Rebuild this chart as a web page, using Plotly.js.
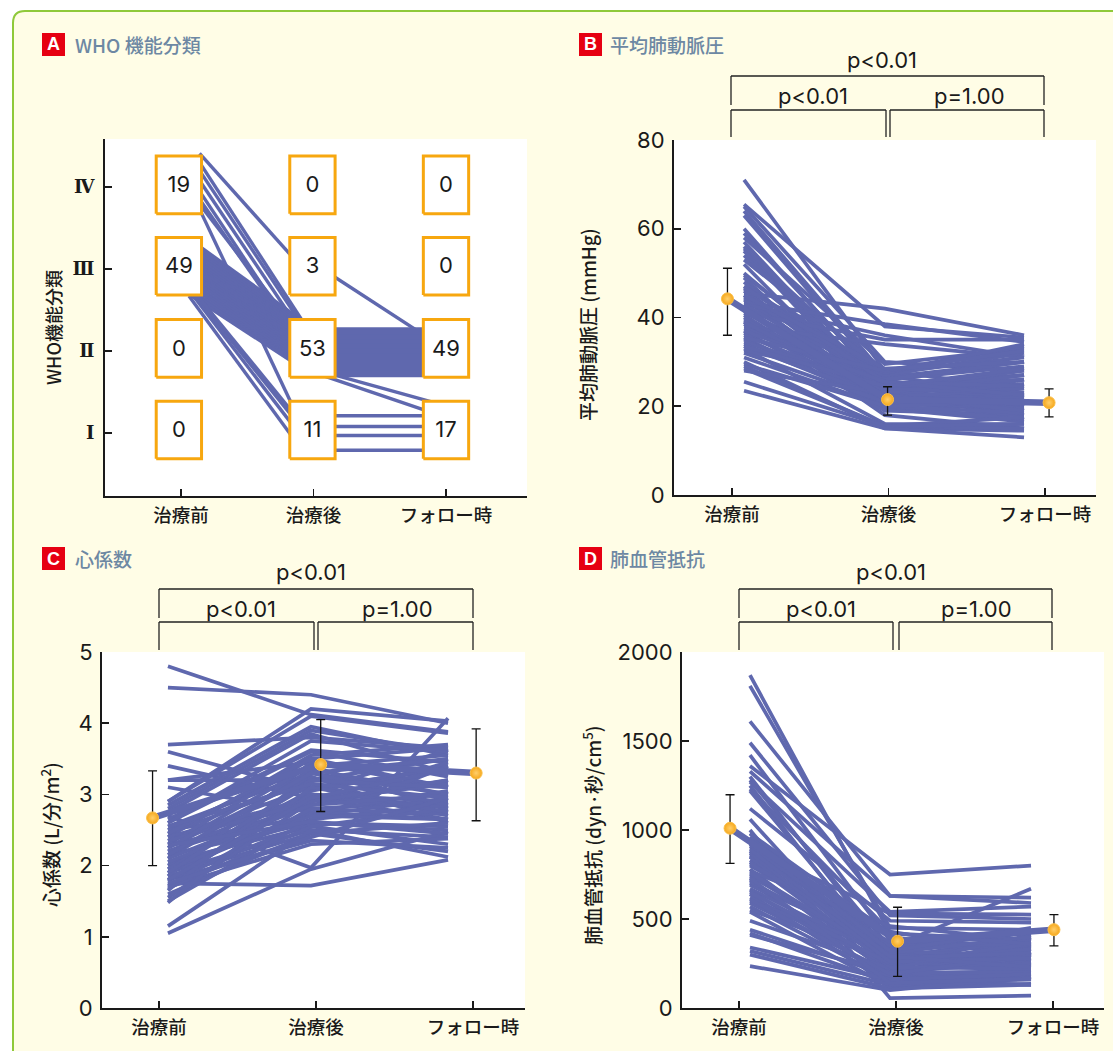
<!DOCTYPE html>
<html><head><meta charset="utf-8">
<script src="https://cdn.plot.ly/plotly-3.0.1.min.js"></script>
<style>html,body{margin:0;padding:0;background:#fff}</style></head>
<body><div id="chart" style="width:1113px;height:1051px"></div>
<script>
var stages = ['治療前','治療後','フォロー時'];
var whoTicks = ['Ⅰ','Ⅱ','Ⅲ','Ⅳ'];
var whoCountPre = [0,0,49,19];
var whoCountPost = [11,53,3,0];
var whoCountFollow = [17,49,0,0];

// A: individual patient paths between WHO classes (y = class position of each drawn line)
var ivStart = [4.41,4.30,4.20,4.08,3.95,3.85,3.79,3.73];
var ivEnd   = [2.86,2.16,2.11,2.01,1.86,1.86,1.99,0.79];
var iiiStart = [3.37,3.34,3.31,3.27,3.24,3.20,3.17,3.13,3.10,3.07,3.03,3.00,2.97,2.93,2.90,2.86,2.83,2.80,2.76,2.73,2.69];
var iiiEnd   = [2.27,2.24,2.21,2.18,2.15,2.12,2.09,2.07,2.04,2.01,1.98,1.95,1.92,1.89,1.86,1.83,1.80,1.77,1.74,1.72,1.70];
var iiiToIStart = [2.67,2.74,2.77,2.80];
var iiiToIEnd   = [0.71,0.87,0.98,1.04];
var postStart = [3.07,1.74,1.78,1.21,1.08,0.97,0.79].concat(iiiEnd);
var postEnd   = [2.02,1.19,1.33,1.21,1.08,0.97,0.79].concat(iiiEnd);

// B: mean pulmonary artery pressure (pre, post, follow-up)
var mpapPre = [71,65.5,65,64,63,60,59,58,57,56,55.5,55,54,53,52,50,49.5,49,48,47,46.5,46,45.5,45,44.5,44,43.5,43,42.5,42,41.5,41,40.5,40,39.5,39,38.5,38,37.5,37,36.5,36,35.5,35,34.5,34,33.5,33,32.5,32,31,30,29.5,29,28.5,28,25.5,23.5,41,43,47,39,37,35.5,33.5,45];
var mpapPost = [28,38,30,27,26,24,25,29.5,23,22,26.5,21,24.5,28,20,23.5,25.5,19,22.5,27.5,21.5,24,42,20.5,26,23,38.5,36,19.5,22,25,35,21,18,24,20,22.5,34,27,19,21.5,23.5,20,20.5,24.5,21,22,16,26,21,20,15,20,15.5,15.5,23,15.5,15,27.5,24,25.5,22.5,25.5,28,24.5,28.5];
var mpapFollow = [24,35.5,28,22,20,26,23,33,21,19,30,24,27,33.5,17,25,22,21,18,31,23,20,36,26,29,24.5,34.5,31,16.5,22,27,35,19,15,28,23,20,31,32,18,25,21,17,22,26,19.5,24,16,30,20.5,18.5,14.5,21,17.5,15,27,16,13,34,23,24.5,19,22.5,32.5,28.5,30];
var mpapMean = [44.2,21.5,20.8];
var mpapUp = [6.9,2.9,3.1];
var mpapDown = [8.2,3.5,3.2];

// C: cardiac index
var ciPre = [4.8,4.5,3.7,3.6,3.4,3.2,3.2,3.1,2.9,2.9,2.85,2.8,2.75,2.7,2.65,2.6,2.55,2.5,2.5,2.45,2.4,2.4,2.35,2.3,2.3,2.25,2.2,2.2,2.15,2.1,2.1,2.05,2,2,1.95,1.9,1.9,1.85,1.85,1.8,1.8,1.78,1.75,1.72,1.7,1.68,1.65,1.6,1.55,1.5,1.48,1.15,1.05,2.6,2.45,2.35,2.25,2.15,2.05,1.95,1.9,1.8,1.75,2.55,2.28];
var ciPost = [4.12,4.4,3.8,3.05,2.95,3.2,3.45,2.75,4.2,4.1,3.95,3.9,3.85,1.97,3.62,3.6,3.3,3.4,2.8,3.2,3.55,2.95,3.1,3.5,2.7,3.25,2.85,3,2.6,3.35,2.9,2.55,3.05,2.65,3.15,2.5,2.75,2.45,3.45,2.35,2.6,3,1.72,2.8,2.3,2.55,3.3,2.45,2.9,2.65,3.1,2.5,1.95,3.75,3.5,2.9,3.4,3.3,2.85,2.7,3.2,2.95,2.4,3.15,2.62];
var ciFollow = [3.88,4,3.65,3.4,2.85,3.15,3.1,2.65,4.03,3.86,3.55,3.6,3.3,4.07,3.45,3.25,3,2.8,2.9,3.5,3.7,2.65,3.35,3.1,2.95,2.6,3.2,2.75,2.5,3,3.45,2.3,3.62,2.85,2.7,2.4,3.05,2.2,3.3,2.25,2.55,2.9,2.08,2.72,2.38,2.8,3.5,2.6,3.15,3.4,2.75,2.12,2.48,3.6,3.65,3.2,3.55,2.85,3,2.65,3.1,3.35,2.95,2.95,2.45];
var ciMean = [2.67,3.42,3.3];
var ciUp = [0.66,0.63,0.62];
var ciDown = [0.67,0.66,0.67];

// D: pulmonary vascular resistance
var pvrPre = [1870,1810,1610,1490,1420,1360,1330,1300,1280,1270,1250,1230,1220,1120,1060,1000,980,960,940,920,900,880,860,850,830,820,800,780,770,750,740,720,700,690,670,660,640,620,600,590,570,550,540,490,440,420,410,340,320,300,235,910,850,710,650,610,760,810,730,980,870,960,890];
var pvrPost = [420,450,630,520,380,750,630,300,340,540,250,430,280,490,200,55,350,310,270,220,530,180,400,290,330,240,360,190,460,260,300,150,210,340,280,170,130,240,320,200,160,270,120,220,180,140,200,160,130,110,100,350,230,310,250,190,280,370,140,420,260,320,290];
var pvrFollow = [380,440,620,500,350,800,590,280,670,570,330,300,400,480,350,70,420,260,390,240,525,190,300,370,430,280,320,210,380,340,240,180,300,350,270,160,170,410,290,260,130,330,175,250,310,160,200,190,135,130,175,360,220,400,360,300,310,440,165,360,280,450,230];
var pvrMean = [1010,375,440];
var pvrUp = [188,191,85];
var pvrDown = [198,197,91];

var W=1113,H=1051;
var fx=function(p){return p/W}, fy=function(p){return 1-p/H};
var lineColor='#5f68ae', orange='#f7a70f', ink='#1a1a1a';
var cjk='"Noto Sans CJK JP","Noto Sans",sans-serif';
var num='Inter,"Liberation Sans",sans-serif';
var traces=[];
function seg(xa,ya,xs,ys,wid){
  traces.push({type:'scatter',mode:'lines',xaxis:xa,yaxis:ya,x:xs,y:ys,hoverinfo:'skip',showlegend:false,
    line:{color:lineColor,width:wid,simplify:false}});
}
// Panel A
ivStart.forEach(function(v,i){seg('x','y',[0.14,1],[v,ivEnd[i]],3.4)});
iiiStart.forEach(function(v,i){seg('x','y',[0.06,1],[v,iiiEnd[i]],3.4)});
iiiToIStart.forEach(function(v,i){seg('x','y',[0.06,0.95],[v,iiiToIEnd[i]],3.4)});
postStart.forEach(function(v,i){seg('x','y',[1,2],[v,postEnd[i]],3.4)});
var boxX=[-0.016,0.992,2.0], boxY=[1.037,2.032,3.033,4.026], hw=0.171, hh=0.351;
boxX.forEach(function(cx){boxY.forEach(function(cy){
  traces.push({type:'scatter',mode:'lines',x:[cx-hw,cx+hw,cx+hw,cx-hw,cx-hw],y:[cy-hh,cy-hh,cy+hh,cy+hh,cy-hh],
    fill:'toself',fillcolor:'#fff',line:{color:orange,width:3},hoverinfo:'skip',showlegend:false,xaxis:'x',yaxis:'y'});
})});
[whoCountPre,whoCountPost,whoCountFollow].forEach(function(cnt,j){
  traces.push({type:'scatter',mode:'text',xaxis:'x',yaxis:'y',x:boxY.map(function(){return boxX[j]}),y:boxY.map(function(v){return v-0.02}),
    text:cnt.map(String),textposition:'middle center',textfont:{family:num,size:22,color:ink},hoverinfo:'skip',showlegend:false});
});
// Panels B, C, D
function panel(xa,ya,pre,post,fol,lx,mean,up,down,mx){
  pre.forEach(function(v,i){seg(xa,ya,lx,[v,post[i],fol[i]],3.7)});
  seg(xa,ya,mx,mean,6.5);
  traces.push({type:'scatter',mode:'markers',xaxis:xa,yaxis:ya,x:mx,y:mean,hoverinfo:'skip',showlegend:false,
    error_y:{type:'data',symmetric:false,array:up,arrayminus:down,visible:true,color:'#111',thickness:1.3,width:4.5},
    marker:{size:12,color:'#f6a81c',gradient:{type:'radial',color:'#ffcf6b'},line:{color:'#fbc04a',width:1}}});
}
panel('x2','y2',mpapPre,mpapPost,mpapFollow,[0.077,0.977,1.866],mpapMean,mpapUp,mpapDown,[-0.029,0.994,2.026]);
panel('x3','y3',ciPre,ciPost,ciFollow,[0.057,0.968,1.841],ciMean,ciUp,ciDown,[-0.041,1.03,2.02]);
panel('x4','y4',pvrPre,pvrPost,pvrFollow,[0.07,0.962,1.86],pvrMean,pvrUp,pvrDown,[-0.057,1.01,2.006]);

function xAxis(l,r,t0,t2,anchor){
  var u=(t2-t0)/2;
  return {domain:[fx(l),fx(r)],range:[(l-t0)/u,(r-t0)/u],anchor:anchor,tickmode:'array',tickvals:[0,1,2],ticktext:stages,
    ticks:'inside',ticklen:7,tickwidth:1.6,tickcolor:ink,showline:true,linecolor:ink,linewidth:2,showgrid:false,zeroline:false,
    ticklabelstandoff:2,tickfont:{family:cjk,size:18.5,color:ink,weight:500},fixedrange:true};
}
function yAxis(t,b,range,dt,anchor){
  return {domain:[fy(b),fy(t)],range:range,anchor:anchor,dtick:dt,tick0:0,tickmode:'linear',
    ticks:'inside',ticklen:7,tickwidth:1.6,tickcolor:ink,showline:true,linecolor:ink,linewidth:2,showgrid:false,zeroline:false,
    ticklabelstandoff:3,tickfont:{family:num,size:22,color:ink},fixedrange:true};
}
var yA=yAxis(139,496,[1-(496-433)/82,4+(187-139)/82],1,'x');
yA.tickmode='array';yA.tickvals=[1,2,3,4];yA.ticktext=whoTicks;yA.ticklabelstandoff=5;yA.tickfont={family:'"DejaVu Serif","Liberation Serif",serif',size:18,color:ink,weight:700};

var shapes=[{type:'path',xref:'paper',yref:'paper',layer:'below',
  path:'M '+fx(13)+' '+fy(1060)+' L '+fx(13)+' '+fy(23)+' Q '+fx(13)+' '+fy(11)+' '+fx(25)+' '+fy(11)+' L '+fx(1120)+' '+fy(11)+' L '+fx(1120)+' '+fy(1060)+' Z',
  fillcolor:'#fffde6',line:{color:'#8fc93a',width:2}}];
['','2','3','4'].forEach(function(s){
  shapes.push({type:'rect',xref:'x'+s+' domain',yref:'y'+s+' domain',x0:0,x1:1,y0:0,y1:1,layer:'below',fillcolor:'#fff',line:{width:0}});
});
var annotations=[];
function txt(x,y,t,opt){
  annotations.push(Object.assign({xref:'paper',yref:'paper',x:fx(x),y:fy(y),text:t,showarrow:false,xanchor:'center',yanchor:'middle',
    font:{family:num,size:22,color:ink}},opt||{}));
}
function hdr(l,t,letter,title,gap){
  shapes.push({type:'rect',xref:'paper',yref:'paper',x0:fx(l),x1:fx(l+23),y0:fy(t),y1:fy(t+23),fillcolor:'#e60012',line:{width:0},layer:'above'});
  txt(l+11.5,t+11.5,letter,{font:{family:'"Liberation Sans",sans-serif',size:18,color:'#fff',weight:700}});
  txt(l+gap,t+11,title,{xanchor:'left',font:{family:cjk,size:19,color:'#6d88a3',weight:500}});
}
hdr(42,33,'A','WHO 機能分類',31);hdr(579,33,'B','平均肺動脈圧',29);hdr(42,547,'C','心係数',31);hdr(579,547,'D','肺血管抵抗',29);
var axtitle=function(x,y,t,s){txt(x,y,t,{textangle:-90,font:{family:cjk,size:s,color:ink,weight:500}})};
axtitle(53,328,'WHO機能分類',18);axtitle(587,325,'平均肺動脈圧 (mmHg)',19);axtitle(50,835,'心係数 (L/分/m<sup>2</sup>)',19);axtitle(592,835,'肺血管抵抗 (dyn·秒/cm<sup>5</sup>)',19);
function brackets(x0,xm0,xm1,x1,yTop,yOutB,yIn,yInB,ytxt0,ytxt1,cx,cl,cr){
  var c='#222',pts=[[x0,yOutB,x0,yTop],[x0,yTop,x1,yTop],[x1,yTop,x1,yOutB],
    [x0,yInB,x0,yIn],[x0,yIn,xm0,yIn],[xm0,yIn,xm0,yInB],
    [xm1,yInB,xm1,yIn],[xm1,yIn,x1,yIn],[x1,yIn,x1,yInB]];
  pts.forEach(function(p){shapes.push({type:'line',xref:'paper',yref:'paper',x0:fx(p[0]),y0:fy(p[1]),x1:fx(p[2]),y1:fy(p[3]),line:{color:c,width:1.3}})});
  txt(cx,ytxt0,'p&lt;0.01');txt(cl,ytxt1,'p&lt;0.01');txt(cr,ytxt1,'p=1.00');
}
brackets(731,886,890,1044,76,105,110,137,60,96,882,813,969);
brackets(159,314,318,473,589,618,622,650,572,609,311,241,397);
brackets(739,893,899,1052,589,618,622,650,572,609,891,821,976);
var layout={width:W,height:H,margin:{l:0,r:0,t:0,b:0},paper_bgcolor:'#fff',plot_bgcolor:'#fff',showlegend:false,hovermode:false,
  xaxis:xAxis(105,527,181,446,'y'),yaxis:yA,
  xaxis2:xAxis(674,1096,732,1045,'y2'),yaxis2:yAxis(140,495,[0,80],20,'x2'),
  xaxis3:xAxis(102,525,159,473,'y3'),yaxis3:yAxis(652,1008,[0,5],1,'x3'),
  xaxis4:xAxis(682,1104,739,1053,'y4'),yaxis4:yAxis(652,1008,[0,2000],500,'x4'),
  shapes:shapes,annotations:annotations};
Plotly.newPlot('chart',traces,layout,{displayModeBar:false,staticPlot:true});
</script></body></html>
